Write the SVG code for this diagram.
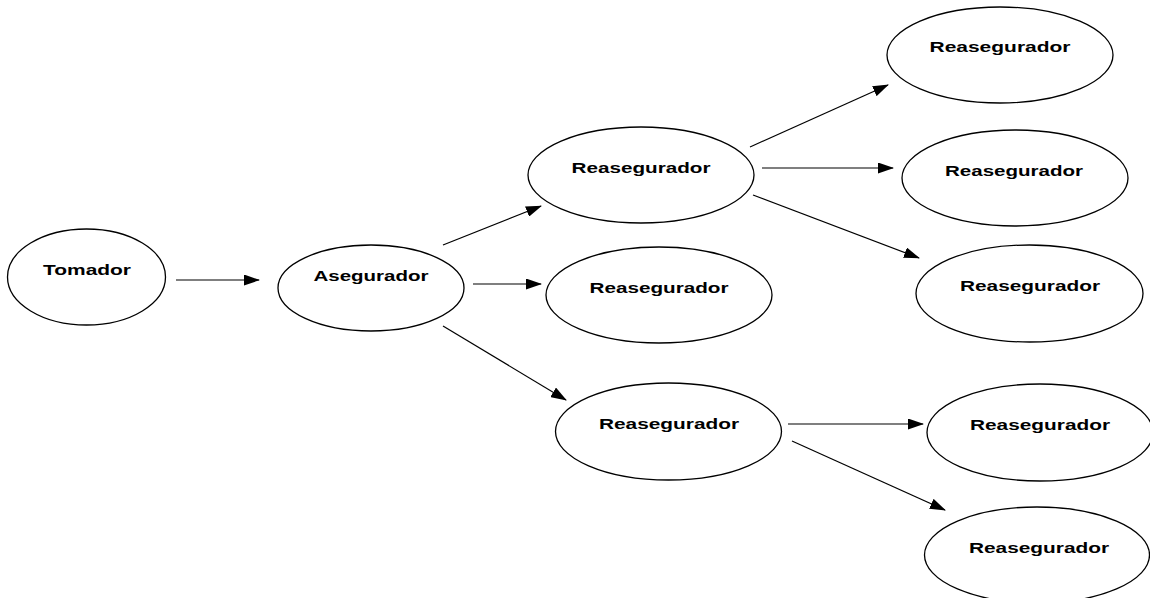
<svg xmlns="http://www.w3.org/2000/svg" width="1150" height="598" viewBox="0 0 1150 598">
<defs>
<style>
.n{fill:#fff;stroke:#000;stroke-width:1.3}
.t{font-family:"Liberation Sans",Arial,sans-serif;font-weight:bold;font-size:15px;fill:#000;text-anchor:middle}
.c{stroke:#000;stroke-width:1.2;fill:none;marker-end:url(#ah)}
</style>
<marker id="ah" markerUnits="userSpaceOnUse" markerWidth="16" markerHeight="11" refX="15" refY="5.5" orient="auto">
<path d="M0,0 L16,5.5 L0,11 z" fill="#000"/>
</marker>
</defs>
<rect width="1150" height="598" fill="#fff"/>
<g id="connectors">
<line class="c" x1="176" y1="280" x2="259" y2="280"/>
<line class="c" x1="443" y1="245" x2="541" y2="206"/>
<line class="c" x1="473" y1="284" x2="541" y2="284"/>
<line class="c" x1="443" y1="326" x2="566" y2="400"/>
<line class="c" x1="750" y1="147" x2="888" y2="85"/>
<line class="c" x1="762" y1="168" x2="893" y2="168"/>
<line class="c" x1="753" y1="195" x2="919" y2="258"/>
<line class="c" x1="788" y1="424" x2="923" y2="424"/>
<line class="c" x1="792" y1="441" x2="945" y2="510"/>
</g>
<g id="tomador"><ellipse class="n" cx="86.5" cy="277" rx="79" ry="48"/><text class="t" x="87" y="275" textLength="88" lengthAdjust="spacingAndGlyphs">Tomador</text></g>
<g id="asegurador"><ellipse class="n" cx="371" cy="288" rx="93" ry="43"/><text class="t" x="371" y="281" textLength="115" lengthAdjust="spacingAndGlyphs">Asegurador</text></g>
<g id="reaseg1"><ellipse class="n" cx="641" cy="175" rx="113" ry="48"/><text class="t" x="641" y="173" textLength="139" lengthAdjust="spacingAndGlyphs">Reasegurador</text></g>
<g id="reaseg2"><ellipse class="n" cx="659" cy="295" rx="113" ry="48"/><text class="t" x="659" y="293" textLength="139" lengthAdjust="spacingAndGlyphs">Reasegurador</text></g>
<g id="reaseg3"><ellipse class="n" cx="668.5" cy="431.5" rx="113" ry="48.5"/><text class="t" x="669" y="429" textLength="140" lengthAdjust="spacingAndGlyphs">Reasegurador</text></g>
<g id="reaseg1a"><ellipse class="n" cx="1000" cy="55" rx="113" ry="48"/><text class="t" x="1000" y="52" textLength="141" lengthAdjust="spacingAndGlyphs">Reasegurador</text></g>
<g id="reaseg1b"><ellipse class="n" cx="1015" cy="178" rx="113" ry="48"/><text class="t" x="1014" y="176" textLength="138" lengthAdjust="spacingAndGlyphs">Reasegurador</text></g>
<g id="reaseg1c"><ellipse class="n" cx="1029.5" cy="293.5" rx="113.5" ry="48.5"/><text class="t" x="1030" y="291" textLength="140" lengthAdjust="spacingAndGlyphs">Reasegurador</text></g>
<g id="reaseg3a"><ellipse class="n" cx="1040" cy="432.5" rx="113" ry="48.5"/><text class="t" x="1040" y="430" textLength="140" lengthAdjust="spacingAndGlyphs">Reasegurador</text></g>
<g id="reaseg3b"><ellipse class="n" cx="1037" cy="555" rx="112.5" ry="48"/><text class="t" x="1039" y="553" textLength="140" lengthAdjust="spacingAndGlyphs">Reasegurador</text></g>
</svg>
